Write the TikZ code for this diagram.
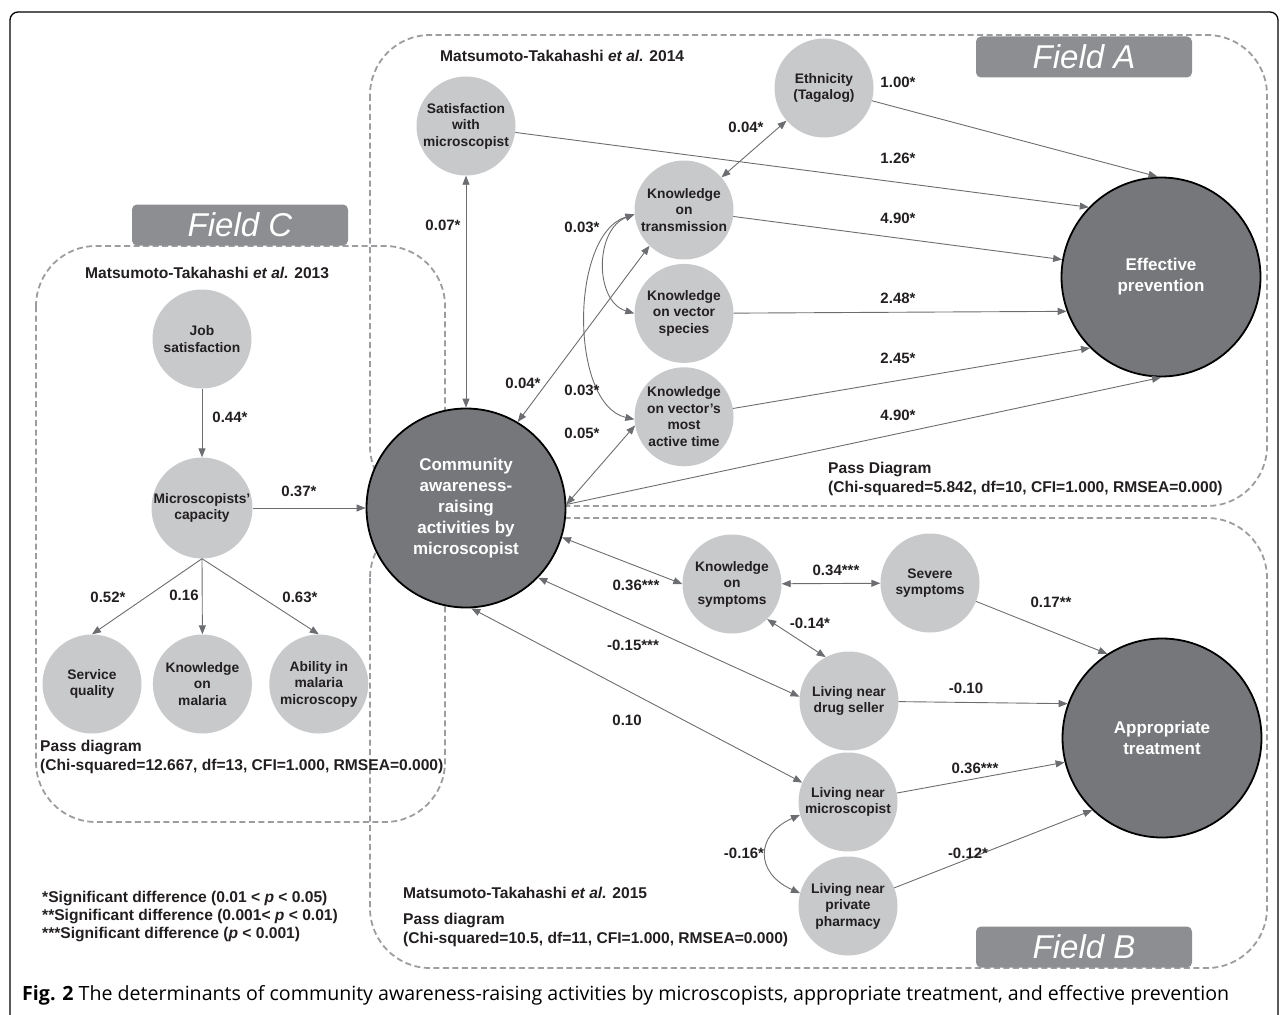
\documentclass[tikz,border=0pt]{standalone}
\usepackage{fontspec}
\setmainfont{Liberation Sans}
\newfontfamily\capfont{Open Sans}
\usetikzlibrary{arrows.meta,positioning}
\definecolor{litegray}{HTML}{C8C9CB}
\definecolor{heavygray}{HTML}{76777A}
\definecolor{taggray}{HTML}{8D8E91}
\definecolor{dashgray}{HTML}{9C9DA0}
\definecolor{linkgray}{HTML}{6C6D70}
\definecolor{inkgray}{HTML}{231F20}

\begin{document}
\begin{tikzpicture}[x=1pt,y=-1pt,>={Triangle[length=9pt,width=7pt]},
	lite/.style={circle,fill=litegray,text=inkgray,minimum size=99pt,inner sep=0pt,align=center,font=\fontsize{13.8}{16.5}\selectfont\bfseries},
	dark/.style={circle,fill=heavygray,draw=black,line width=1.8pt,text=white,minimum size=199pt,inner sep=0pt,align=center,font=\fontsize{17}{21}\selectfont\bfseries},
	fieldtag/.style={rounded corners=5pt,fill=taggray,text=white,minimum width=216pt,minimum height=41pt,inner sep=0pt,font=\fontsize{33}{33}\selectfont\itshape},
	fieldbox/.style={draw=dashgray,line width=1.8pt,dash pattern=on 6pt off 3.5pt,rounded corners=60pt},
	link/.style={linkgray,line width=0.9pt},
	coef/.style={inner sep=0pt,text=inkgray,font=\fontsize{15}{18}\selectfont\bfseries},
	note/.style={inner sep=0pt,anchor=west,align=left,text=inkgray,font=\fontsize{15.6}{19}\selectfont\bfseries}]
	\useasboundingbox (0,0) rectangle (1281,1014);
	\draw[line width=1.3pt,rounded corners=8pt] (10,1030) -- (10,12) -- (1278,12) -- (1278,1030);

	\draw[fieldbox] (370,35) rectangle (1267,506);
	\draw[fieldbox] (36,246) rectangle (445,822);
	\draw[fieldbox] (370,518) rectangle (1267,968);
	\node[fieldtag] (tagA) at (1084,57) {Field A};
	\node[fieldtag] (tagC) at (240,225) {Field C};
	\node[fieldtag] (tagB) at (1084,947) {Field B};

	\node[dark] (comm) at (466,508) {Community\\awareness-\\raising\\activities by\\microscopist};
	\node[dark] (eff) at (1161,277) {Effective\\prevention};
	\node[dark] (appr) at (1162,738) {Appropriate\\treatment};

	\node[lite] (job) at (202,339) {Job\\satisfaction};
	\node[lite] (cap) at (202,508) {Microscopists’\\capacity};
	\node[lite] (svc) at (92,684) {Service\\quality};
	\node[lite] (kmal) [right=11pt of svc] {Knowledge\\on\\malaria};
	\node[lite] (abil) [right=17pt of kmal] {Ability in\\malaria\\microscopy};

	\node[lite] (sat) at (466,126) {Satisfaction\\with\\microscopist};
	\node[lite] (eth) at (824,88) {Ethnicity\\(Tagalog)};
	\node[lite] (ktr) at (684,210) {Knowledge\\on\\transmission};
	\node[lite] (kvs) [below=4pt of ktr] {Knowledge\\on vector\\species};
	\node[lite] (kat) [below=4pt of kvs] {Knowledge\\on vector’s\\most\\active time};

	\node[lite] (ksym) at (732,584) {Knowledge\\on\\symptoms};
	\node[lite] (sev) at (930,583) {Severe\\symptoms};
	\node[lite] (drug) at (849,701) {Living near\\drug seller};
	\node[lite] (lmic) at (848,802) {Living near\\microscopist};
	\node[lite] (pharm) at (848,906) {Living near\\private\\pharmacy};

	\path[link,->]
	(job) edge (cap)
	(cap) edge (comm)
	(cap.south) edge (svc.north)
	(cap.south) edge (kmal.north)
	(cap.south) edge (abil.north)
	(sat) edge (eff.136)
	(eth) edge (eff.92)
	(ktr) edge (eff.170)
	(kvs) edge (eff.200)
	(kat) edge (eff.225)
	(comm.2) edge (eff.270)
	(sev) edge (appr.123)
	(drug) edge (appr.160)
	(lmic) edge (appr.194)
	(pharm) edge (appr.226)
	;
	\path[link,<->]
	(comm) edge (sat)
	(eth) edge (ktr)
	(comm.59) edge (ktr.226)
	(comm.2) edge (kat.190)
	(comm.-17) edge (ksym.180)
	(comm.-44) edge (drug.175)
	(comm.-87) edge (lmic.157)
	(ksym) edge (sev)
	(ksym.-45) edge (drug.118)
	;
	\draw[link,<->] (ktr.185) .. controls +(-40,15) and +(-40,-12) .. (kvs.180);
	\draw[link,<->] (ktr.185) .. controls +(-65,20) and +(-65,-15) .. (kat.183);
	\draw[link,<->] (lmic.195) .. controls +(-45,20) and +(-45,-20) .. (pharm.165);

	\node[coef] (c044) at (230,417) {0.44*};
	\node[coef] (c037) at (299,491) {0.37*};
	\node[coef] (c052) at (108,597) {0.52*};
	\node[coef] (c016) at (184,595) {0.16};
	\node[coef] (c063) at (300,597) {0.63*};
	\node[coef] (c007) at (443,225) {0.07*};
	\node[coef] (c003a) at (582,227) {0.03*};
	\node[coef] (c004b) at (523,383) {0.04*};
	\node[coef] (c003b) at (582,390) {0.03*};
	\node[coef] (c005) at (582,433) {0.05*};
	\node[coef] (c004a) at (746,127) {0.04*};
	\node[coef] (c100) at (898,82) {1.00*};
	\node[coef] (c126) at (898,158) {1.26*};
	\node[coef] (c490a) at (898,218) {4.90*};
	\node[coef] (c248) at (898,298) {2.48*};
	\node[coef] (c245) at (898,358) {2.45*};
	\node[coef] (c490b) at (898,415) {4.90*};
	\node[coef] (c036a) at (636,585) {0.36***};
	\node[coef] (c034) at (836,570) {0.34***};
	\node[coef] (c014) at (810,623) {-0.14*};
	\node[coef] (c015) at (633,645) {-0.15***};
	\node[coef] (c010a) at (627,720) {0.10};
	\node[coef] (c017) at (1051,602) {0.17**};
	\node[coef] (c010b) at (966,688) {-0.10};
	\node[coef] (c036b) at (975,768) {0.36***};
	\node[coef] (c012) at (968,853) {-0.12*};
	\node[coef] (c016b) at (744,853) {-0.16*};

	\node[note] (srcA) at (440,56) {Matsumoto-Takahashi \textit{et al.} 2014};
	\node[note] (srcC) at (85,273) {Matsumoto-Takahashi \textit{et al.} 2013};
	\node[note] (srcB) at (403,893) {Matsumoto-Takahashi \textit{et al.} 2015};
	\node[note] (fitA) at (828,479) {Pass Diagram\\(Chi-squared=5.842, df=10, CFI=1.000, RMSEA=0.000)};
	\node[note] (fitC) at (40,757) {Pass diagram\\(Chi-squared=12.667, df=13, CFI=1.000, RMSEA=0.000)};
	\node[note] (fitB) at (403,930) {Pass diagram\\(Chi-squared=10.5, df=11, CFI=1.000, RMSEA=0.000)};
	\node[note,font=\fontsize{15.6}{18}\selectfont\bfseries] (sig) at (42,916) {*Significant difference (0.01 < \textit{p} < 0.05)\\**Significant difference (0.001< \textit{p} < 0.01)\\***Significant difference (\textit{p} < 0.001)};

	\node[anchor=west,inner sep=0pt,font=\capfont\fontsize{19.6}{22}\selectfont] (figcap) at (22,995) {\textbf{Fig. 2} The determinants of community awareness-raising activities by microscopists, appropriate treatment, and effective prevention};
\end{tikzpicture}
\end{document}
